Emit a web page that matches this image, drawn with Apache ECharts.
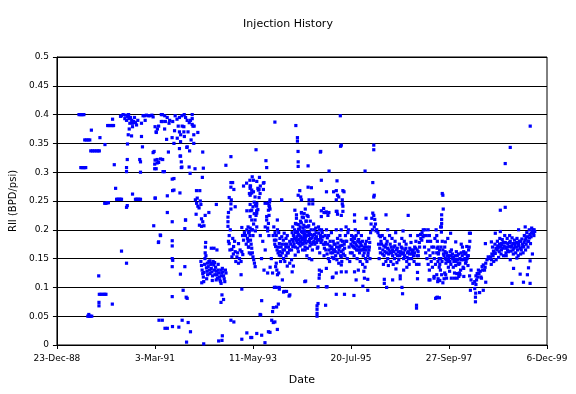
<!DOCTYPE html>
<html><head><meta charset="utf-8">
<script src="https://cdn.jsdelivr.net/npm/echarts@6/dist/echarts.min.js"></script>
<style>html,body{margin:0;padding:0;background:#fff}#c{width:576px;height:394px}</style>
</head><body><div id="c"></div>
<script>
// x = days since 23-Dec-88, y = RII (BPD/psi)
const xTickLabels = ['23-Dec-88','3-Mar-91','11-May-93','20-Jul-95','27-Sep-97','6-Dec-99'];
const xTickStepDays = 800;

const rii1989to1990 = [
[180,.4],[190,.4],[200,.4],[210,.4],[220,.4],
[195,.308],[205,.308],[215,.308],[225,.308],[235,.308],
[227,.356],[240,.356],[255,.356],[268,.356],
[276,.337],[290,.337],[305,.337],[320,.337],[335,.337],[346,.337],
[281,.373],[351,.36],[392,.348],
[414,.381],[425,.381],[440,.381],[452,.381],[462,.381],[454,.392],
[468,.313],[390,.246],[400,.246],[410,.247],[420,.247],[479,.272],
[487,.253],[497,.253],[507,.253],[517,.253],[527,.253],
[519,.397],[527,.163],[341,.12],
[346,.088],[360,.088],[375,.088],[390,.088],[400,.088],
[343,.074],[343,.068],[452,.071],
[260,.053],[252,.05],[262,.05],[272,.05],[284,.05],
[527,.398],[540,.4],[554,.393],[560,.399],[568,.39],[576,.397],[585,.4],[600,.395],[610,.39],[617,.385],[627,.388],[641,.386],[650,.382],[690,.385],[703,.398],[715,.398],[730,.399],[745,.398],[760,.398],[775,.399],
[576,.349],[590,.375],[582,.365],[617,.379],[609,.363],[690,.362],[698,.344],
[574,.322],[676,.322],[682,.318],[568,.308],[568,.301],[682,.3],[617,.262],
[641,.253],[650,.253],[660,.253],[670,.253],[682,.253],[568,.239],[574,.242],[568,.142],
[587,.393],[595,.385],[633,.395],[660,.39],[720,.39]
];

const rii1991to1992 = [
[785,.396],[785,.334],[801,.379],[811,.369],[820,.375],[852,.388],[860,.388],[852,.4],[879,.375],[846,.323],[801,.321],[798,.314],[798,.306],[866,.301],[830,.317],[801,.255],[790,.207],[846,.19],[828,.178],[833,.043],[882,.029],
[860,.4],[880,.398],[900,.395],[920,.39],[945,.388],[965,.398],[980,.392],[1000,.395],[1020,.398],[1039,.4],[1050,.395],[1063,.39],[1080,.386],[1090,.39],[1104,.4],[1104,.393],[1104,.383],[1110,.38],[1120,.38],[1022,.38],[1000,.37],[1010,.365],[982,.359],[955,.35],[1063,.344],[1083,.337],[1117,.35],[1117,.365],[1150,.369],[895,.357],[810,.37],[830,.38],[885,.388],[915,.385],[793,.336],[910,.335],[1060,.343],[1190,.335],[940,.36],[960,.372],[990,.38],[1070,.37],[1095,.356],
[1036,.379],[1036,.37],[1040,.362],[1009,.353],[1000,.341],[1009,.328],[1015,.318],[1015,.308],
[818,.322],[863,.322],[1005,.328],[818,.316],[810,.306],[877,.301],[1020,.309],[1079,.309],[1127,.306],[1195,.307],[1087,.298],
[941,.288],[955,.289],[955,.269],[1187,.291],[944,.268],[1004,.264],[1139,.268],[1166,.268],[901,.259],[803,.255],
[1130,.252],[1140,.246],[1150,.241],[1160,.238],[1170,.25],[1175,.244],[1145,.255],
[901,.23],[1136,.227],[1049,.217],[941,.214],[1180,.219],[1190,.214],[1163,.208],[1180,.206],[1044,.202],[1050,.217],
[843,.191],[830,.179],[941,.181],[941,.172],[941,.15],[945,.147],[941,.136],[1044,.136],[1008,.123],[1030,.095],[941,.084],[1063,.081],[1055,.083],
[860,.043],[1022,.043],[1071,.039],[901,.029],[995,.031],[1090,.023],[1058,.005],[943,.032],[1198,.002],[1320,.007],[1347,.008],[1350,.016],
[1200,.207],[1210,.225],[1240,.23],[1301,.244],[1379,.312],
[1175,.145],[1180,.138],[1185,.13],[1190,.124],[1195,.118],[1198,.11],[1205,.14],[1208,.15],[1210,.16],[1212,.17],[1214,.178],[1216,.155],[1220,.134],[1225,.128],[1230,.122],[1235,.136],[1240,.145],[1245,.13],[1250,.124],[1255,.14],[1260,.133],[1265,.127],[1270,.12],[1275,.145],[1280,.139],[1285,.13],[1290,.122],[1295,.135],[1300,.128],[1305,.122],[1310,.116],[1315,.13],[1320,.125],[1325,.118],[1330,.113],[1335,.11],[1340,.107],[1345,.125],[1350,.133],[1355,.127],[1360,.12],[1365,.115],[1370,.11],[1375,.13],[1380,.125],[1228,.142],[1248,.146],[1262,.142],[1287,.143],[1200,.126],[1222,.115],[1268,.112],[1300,.113],[1182,.108],[1316,.14],[1338,.13],[1342,.12],
[1282,.168],[1306,.165],[1260,.168],[1347,.087],[1360,.079],[1339,.074]
];

const rii1993to1995 = [
[1396,.214],[1396,.206],[1406,.19],[1406,.176],[1428,.166],[1428,.153],[1442,.171],[1455,.162],[1469,.153],[1460,.145],[1482,.142],[1482,.176],[1509,.204],[1509,.162],[1523,.182],[1503,.145],[1517,.157],[1550,.2],[1563,.195],[1540,.19],[1563,.17],[1577,.203],[1582,.158],[1503,.122],[1509,.097],
[1396,.222],[1400,.23],[1406,.256],[1420,.245],[1420,.236],[1423,.252],[1455,.24],[1420,.282],[1420,.274],[1434,.282],[1444,.27],[1523,.276],[1577,.276],[1571,.263],[1577,.244],[1577,.233],[1420,.327],
[1415,.2],[1435,.185],[1450,.18],[1475,.16],[1490,.15],[1495,.165],[1515,.19],[1530,.195],[1545,.175],[1555,.185],[1400,.18],[1412,.165],[1440,.158],
[1594,.292],[1575,.286],[1548,.281],[1580,.276],[1631,.284],[1644,.269],[1658,.263],[1604,.266],[1590,.269],[1580,.263],[1617,.257],[1631,.246],[1610,.248],[1620,.243],[1631,.229],[1617,.217],[1631,.205],[1620,.198],[1720,.246],[1731,.242],[1726,.234],[1731,.225],[1726,.211],[1720,.203],[1720,.198],[1699,.246],[1834,.251],[1799,.217],[1590,.234],[1577,.223],[1590,.217],[1600,.24],[1640,.272],[1650,.256],[1610,.228],[1605,.21],[1625,.225],[1640,.235],[1595,.2],
[1653,.291],[1604,.286],[1577,.272],[1577,.26],[1590,.264],[1685,.281],[1690,.282],[1660,.276],[1685,.27],[1650,.27],[1739,.252],[1735,.248],[1735,.24],[1739,.236],[1712,.223],[1712,.217],[1630,.241],[1630,.233],[1550,.233],
[1560,.205],[1570,.196],[1575,.19],[1580,.182],[1585,.175],[1590,.168],[1595,.16],[1600,.153],[1606,.148],[1612,.142],[1618,.136],[1560,.18],[1565,.17],[1570,.16],[1590,.2],[1600,.19],
[1660,.19],[1680,.18],[1700,.165],[1670,.15],[1690,.13],[1720,.125],[1740,.135],[1750,.15],[1700,.205],[1730,.19],
[1775,.182],[1785,.171],[1815,.176],[1835,.188],[1855,.194],[1845,.165],[1815,.156],[1790,.142],[1785,.136],[1800,.122],[1840,.113],[1815,.1],[1790,.1],[1855,.093],[1895,.085],[1880,.137],[1900,.142],[1915,.148],[1930,.137],[1915,.165],[1925,.171],[1955,.182],[1975,.176],[2000,.182],[2020,.193],[2010,.176],[2025,.165],[1945,.156],[1970,.162],[1920,.127],[2030,.111],[1770,.205],[1780,.195],[1790,.19],[1800,.2],[1810,.195],[1820,.185],[1830,.17],[1840,.16],[1850,.15],[1860,.145],[1870,.155],[1880,.16],[1890,.17],[1900,.18],[1860,.175],[1870,.185],[1880,.19],[1825,.145],[1805,.16],[1795,.13],[1810,.125],[1760,.125],[1775,.1],
[1765,.19],[1778,.175],[1788,.182],[1797,.165],[1808,.17],[1818,.162],[1828,.155],[1838,.175],[1848,.182],[1858,.165],[1868,.17],[1878,.175],[1888,.16],[1898,.165],[1908,.175],[1918,.183],[1928,.18],[1938,.185],[1948,.195],
[1955,.226],[1955,.22],[1947,.211],[1970,.209],[1995,.197],[1985,.205],[2010,.197],[2030,.188],
[1920,.195],[1930,.19],[1940,.2],[1950,.185],[1960,.178],[1970,.192],[1980,.2],[1990,.188],[2000,.175],[2010,.185],[2020,.198],[2030,.205],[2040,.19],[2050,.18],[2060,.195],[2070,.185],[2080,.175],[2090,.19],[2100,.2],[1935,.175],[1945,.17],[1965,.168],[1985,.172],[2005,.165],[2025,.17],[2045,.168],[2065,.172],[2085,.165],[1925,.205],[1955,.21],[1995,.212],[2015,.208],[2035,.215],[2055,.207],[2075,.2],[2095,.21],[1975,.183],[2022,.18],[2062,.183],[2098,.18],[2040,.155],[2060,.15],[2080,.148],
[1958,.188],[1963,.197],[1972,.201],[1978,.19],[1987,.179],[1993,.186],[2003,.195],[2008,.203],[2017,.19],[2027,.183],[2033,.177],[2043,.196],[2048,.205],[2053,.19],[2067,.178],[2073,.192],[2083,.186],[2093,.178],[2002,.222],[2018,.228],[2027,.236],[2033,.215],[2042,.225],[1988,.215],[2068,.215],
[1996,.23],[2012,.221],[2077,.273],[2088,.252],[2088,.245],[1996,.252],[1779,.387],[1625,.339],[1706,.32],[1712,.308],[1950,.381],[1963,.36],[1963,.354],[1968,.336],[1969,.318],[1969,.31],[2050,.311],[1982,.268],[2050,.274],[1969,.26],[1990,.257],[2058,.252],[2058,.245],[1942,.234],[1996,.229],[2050,.223],[1834,.252],
[1671,.077],[1807,.071],[1766,.065],[1760,.058],[1658,.053],[1753,.043],[1766,.039],[1799,.027],[1726,.023],[1671,.017],[1582,.013],[1698,.004],[1874,.093],[1850,.092],[1901,.087],[1779,.1],[1815,.097],[2023,.11],[1793,.066],[1779,.04],[1663,.052],[1739,.022],[1631,.02],[1550,.021],[1590,.013],[1509,.01],[1420,.043],[1444,.04]
];

const rii1995to1997 = [
[2110,.185],[2120,.178],[2130,.17],[2140,.182],[2150,.19],[2160,.2],[2170,.188],[2105,.175],[2125,.168],[2145,.16],[2115,.195],[2135,.205],[2155,.178],[2175,.175],
[2103,.192],[2112,.203],[2118,.188],[2127,.183],[2137,.194],[2143,.2],[2152,.186],[2163,.182],
[2165,.195],[2185,.175],[2195,.165],[2205,.158],[2215,.15],[2225,.145],[2235,.16],[2245,.17],[2255,.18],[2265,.165],[2275,.155],[2285,.148],[2295,.16],[2305,.17],[2315,.155],[2325,.145],[2335,.165],[2190,.19],[2210,.175],[2230,.18],[2250,.16],[2270,.175],[2290,.185],[2310,.19],[2330,.18],[2180,.155],[2220,.165],[2260,.15],[2300,.142],[2200,.2],[2240,.195],[2280,.2],[2320,.2],
[2183,.168],[2193,.178],[2207,.186],[2217,.19],[2228,.172],[2238,.167],[2247,.152],[2257,.165],[2262,.175],[2272,.162],[2283,.17],[2293,.177],[2302,.165],[2313,.172],[2318,.182],[2327,.173],[2338,.158],[2348,.168],[2357,.18],
[2158,.233],[2180,.23],[2280,.232],[2290,.227],[2280,.252],[2280,.268],[2200,.266],[2290,.26],[2300,.257],[2158,.286],[2286,.285],[2221,.302],[2150,.335],[2321,.347],[2313,.398],[2315,.345],[2153,.336],[2258,.266],[2343,.266],[2329,.252],[2329,.245],[2334,.241],[2334,.232],[2321,.225],[2286,.232],[2220,.23],[2193,.23],[2158,.223],[2177,.237],[2199,.231],[2212,.225],[2334,.268],
[2321,.162],[2321,.153],[2321,.139],[2321,.127],[2280,.125],[2199,.133],[2142,.13],[2142,.122],[2253,.118],[2199,.101],[2280,.088],[2347,.088],[2131,.101],[2140,.116],[2205,.101],[2248,.117],[2158,.128],[2131,.072],[2123,.068],[2123,.062],[2123,.055],[2123,.05],[2193,.069],[2361,.127],
[2345,.175],[2355,.19],[2365,.18],[2375,.195],[2385,.17],[2395,.16],[2405,.19],[2415,.18],[2420,.17],[2430,.185],[2440,.175],[2445,.165],[2455,.18],[2465,.17],[2470,.16],[2480,.175],[2490,.165],[2500,.155],[2510,.17],[2520,.15],[2530,.145],[2540,.16],[2550,.17],[2425,.155],[2450,.15],[2475,.145],[2495,.14],[2515,.135],[2435,.2],[2460,.195],[2485,.19],[2525,.18],[2545,.185],[2410,.16],[2400,.175],[2505,.128],[2460,.13],[2555,.15],[2350,.155],[2370,.15],[2390,.145],[2380,.2],[2360,.205],
[2403,.183],[2412,.172],[2418,.188],[2427,.178],[2433,.168],[2442,.19],[2448,.172],[2457,.165],[2463,.183],[2472,.178],[2478,.165],[2487,.172],[2493,.18],[2502,.166],[2508,.16],[2517,.175],[2523,.165],[2532,.17],[2538,.155],[2547,.165],[2553,.178],
[2564,.21],[2570,.22],[2578,.229],[2586,.225],[2594,.218],[2600,.21],[2610,.2],[2620,.195],[2630,.19],[2640,.188],[2575,.2],[2590,.205],[2605,.198],[2560,.195],
[2586,.347],[2586,.339],[2515,.302],[2578,.282],[2586,.257],[2590,.26],[2429,.226],[2429,.215],[2523,.22],[2686,.226],
[2424,.086],[2537,.095],[2497,.102],[2672,.107],[2429,.127],[2510,.116],[2442,.113],[2537,.114],[2672,.114],[2740,.113],[2691,.1],[2767,.132],
[2650,.175],[2660,.165],[2670,.155],[2680,.17],[2690,.16],[2700,.15],[2710,.165],[2720,.175],[2730,.16],[2740,.155],[2750,.17],[2760,.18],[2770,.165],[2780,.155],[2790,.148],[2655,.19],[2675,.185],[2695,.18],[2715,.19],[2735,.185],[2755,.15],[2775,.143],[2795,.175],[2665,.14],[2685,.145],[2705,.138],[2725,.145],[2745,.14],[2640,.16],[2630,.15],[2700,.2],[2765,.195],
[2625,.175],[2635,.168],[2645,.18],[2658,.158],[2668,.172],[2678,.162],[2688,.175],[2698,.168],[2708,.158],[2718,.162],[2728,.17],[2738,.165],[2748,.162],[2758,.172],[2768,.158],[2778,.168],[2788,.162],[2798,.155]
];

const rii1997to1998 = [
[2800,.16],[2810,.17],[2820,.158],[2830,.15],[2840,.165],[2850,.175],[2860,.16],[2870,.15],[2880,.168],[2890,.178],[2900,.162],[2910,.155],[2920,.17],[2930,.18],[2940,.165],[2950,.155],[2960,.17],[2970,.185],[2980,.195],[2990,.2],[2815,.185],[2835,.18],[2855,.145],[2875,.14],[2895,.15],[2915,.145],[2935,.14],[2955,.14],[2825,.198],[2885,.19],[2945,.19],
[2808,.162],[2818,.168],[2828,.16],[2838,.155],[2848,.168],[2858,.152],[2868,.162],[2878,.158],[2888,.165],[2898,.158],[2908,.165],[2918,.16],[2928,.168],[2938,.155],[2948,.162],[2958,.178],[2968,.192],[2978,.182],[2988,.188],
[2867,.225],[2821,.089],[2935,.069],[2935,.064],[2943,.126],[2802,.12],[2856,.135],[2816,.1],[2802,.115],[2943,.115],[2830,.13],
[3030,.2],[3040,.19],[3050,.18],[3060,.17],[3070,.16],[3080,.15],[3090,.14],[3035,.165],[3045,.155],[3055,.145],[3065,.135],[3025,.18],[3015,.19],[3005,.2],[2995,.19],[3075,.17],[3085,.185],[3000,.17],[3010,.16],[3020,.15],[3030,.14],[3040,.13],
[3105,.083],[3037,.113],[3078,.119],[3108,.11],[3099,.082],[3045,.113],[3078,.116],[3118,.112],[3091,.081],
[3145,.263],[3150,.26],[3153,.236],[3140,.226],[3140,.218],[3140,.211],[3138,.205],[3138,.196],[3132,.205],
[3095,.2],[3100,.19],[3105,.18],[3110,.17],[3115,.16],[3120,.15],[3125,.14],[3130,.13],[3100,.16],[3110,.145],[3120,.135],[3135,.17],[3145,.18],[3150,.165],[3160,.155],[3170,.15],[3175,.142],[3165,.17],[3180,.16],[3190,.145],[3200,.155],[3210,.162],[3220,.165],[3230,.15],[3240,.145],[3250,.155],[3260,.162],[3270,.148],[3280,.14],[3290,.15],[3300,.16],[3310,.17],[3320,.162],[3330,.15],[3340,.145],[3350,.155],[3360,.165],[3370,.18],[3195,.135],[3215,.14],[3235,.135],[3255,.138],[3275,.142],[3295,.13],[3315,.135],[3335,.142],[3355,.138],[3320,.133],[3285,.125],[3245,.125],[3205,.128],[3165,.125],[3140,.122],[3160,.115],[3190,.185],[3170,.179],[3255,.179],[3300,.175],[3345,.171],[3375,.194],[3125,.112],[3150,.108],[3100,.122],[3111,.115],[3180,.116],[3245,.116],[3280,.119],[3264,.124],[3290,.122],[3122,.082],[3380,.13],[3368,.12],
[3103,.168],[3113,.158],[3123,.165],[3133,.15],[3143,.145],[3155,.158],[3168,.162],[3178,.148],[3188,.155],[3198,.15],[3208,.145],[3218,.155],[3228,.158],[3238,.152],[3248,.148],[3258,.145],[3268,.155],[3278,.158],[3288,.142],[3298,.148],[3308,.155],[3318,.148],[3328,.158],[3338,.16],[3348,.15],[3358,.155],[3365,.17],
[3213,.194],[3367,.194],[3173,.122],[3219,.116],[3267,.116],[3321,.119],[3281,.124]
];

const rii1998to1999 = [
[3380,.113],[3395,.107],[3410,.098],[3416,.083],[3416,.075],[3418,.09],[3375,.095],[3410,.11],[3420,.12],[3425,.113],[3430,.124],[3445,.124],[3450,.091],[3440,.13],[3460,.118],[3465,.116],[3480,.095],[3500,.109],[3470,.136],[3480,.139],[3490,.13],[3500,.142],[3510,.148],[3520,.153],[3530,.15],[3420,.105],[3435,.118],[3455,.128],[3475,.13],[3495,.135],
[3540,.153],[3550,.158],[3560,.155],[3570,.16],[3578,.159],[3590,.165],[3600,.168],[3610,.162],[3620,.17],[3630,.174],[3640,.168],[3650,.172],[3660,.178],[3670,.17],[3680,.176],[3690,.171],[3700,.18],[3710,.172],[3720,.176],[3730,.168],[3740,.176],[3750,.17],[3760,.165],[3770,.172],[3780,.168],[3790,.165],[3800,.175],[3810,.171],[3820,.182],[3830,.175],[3840,.188],[3850,.18],[3860,.192],[3870,.188],[3880,.197],[3890,.195],[3895,.2],[3900,.197],
[3545,.14],[3565,.145],[3585,.148],[3605,.152],[3625,.158],[3645,.155],[3665,.16],[3685,.162],[3705,.163],[3725,.158],[3745,.16],[3765,.155],[3785,.158],[3805,.16],[3825,.165],[3845,.17],[3865,.176],
[3555,.17],[3575,.175],[3595,.18],[3615,.185],[3635,.183],[3655,.19],[3675,.185],[3695,.19],[3715,.186],[3735,.182],[3755,.185],[3775,.18],[3795,.184],[3815,.19],[3835,.195],[3855,.2],[3875,.203],[3885,.2],
[3548,.148],[3563,.163],[3583,.168],[3598,.172],[3613,.175],[3628,.165],[3643,.178],[3663,.168],[3678,.165],[3693,.178],[3708,.17],[3723,.165],[3738,.172],[3753,.178],[3768,.175],[3783,.18],[3798,.17],[3813,.178],[3828,.185],[3843,.18],[3858,.186],[3873,.194],[3893,.19],
[3863,.38],[3700,.343],[3659,.315],[3659,.239],[3619,.234],[3822,.205],[3768,.2],[3619,.197],[3578,.194],[3497,.176],[3546,.179],[3627,.176],
[3881,.158],[3862,.146],[3849,.134],[3862,.107],[3808,.109],[3714,.107],[3727,.133],[3781,.123],[3840,.122],[3700,.148],[3754,.151],[3667,.155]
];

const allPoints = [].concat(rii1989to1990, rii1991to1992, rii1993to1995, rii1995to1997, rii1997to1998, rii1998to1999);

const chart = echarts.init(document.getElementById('c'), null, {renderer: 'canvas'});
const font = 'DejaVu Sans';
chart.setOption({
  animation: false,
  backgroundColor: '#ffffff',
  title: {
    text: 'Injection History', left: 'center', top: 14,
    textStyle: {fontFamily: font, fontSize: 11, fontWeight: 'normal', color: '#000'}
  },
  grid: {left: 54, right: 29, top: 57, bottom: 49, show: true, borderColor: '#000', borderWidth: 1, backgroundColor: 'transparent'},
  xAxis: {
    type: 'value', min: 0, max: xTickStepDays * (xTickLabels.length - 1), interval: xTickStepDays,
    name: 'Date', nameLocation: 'middle', nameGap: 30,
    nameTextStyle: {fontFamily: font, fontSize: 11, color: '#000'},
    axisLine: {show: true, onZero: false, lineStyle: {color: '#000', width: 1}},
    axisTick: {show: true, inside: false, length: 4, lineStyle: {color: '#000'}},
    axisLabel: {fontFamily: font, fontSize: 9, color: '#000', margin: 9, showMaxLabel: true, showMinLabel: true,
      formatter: v => xTickLabels[Math.round(v / xTickStepDays)] || ''},
    splitLine: {show: false}
  },
  yAxis: {
    type: 'value', min: 0, max: 0.5, interval: 0.05,
    name: 'RII (BPD/psi)', nameLocation: 'middle', nameGap: 30, nameRotate: 90,
    nameTextStyle: {fontFamily: font, fontSize: 10, color: '#000'},
    axisLine: {show: true, lineStyle: {color: '#000', width: 1}},
    axisTick: {show: true, inside: false, length: 4, lineStyle: {color: '#000'}},
    axisLabel: {fontFamily: font, fontSize: 9, color: '#000', margin: 8,
      formatter: v => String(Math.round(v * 100) / 100)},
    splitLine: {show: true, lineStyle: {color: '#000', width: 1}}
  },
  series: [{
    type: 'scatter', data: allPoints, symbol: 'rect', symbolSize: 3.2,
    itemStyle: {color: '#0000ff', opacity: 1}, silent: true
  }]
});
</script>
</body></html>
